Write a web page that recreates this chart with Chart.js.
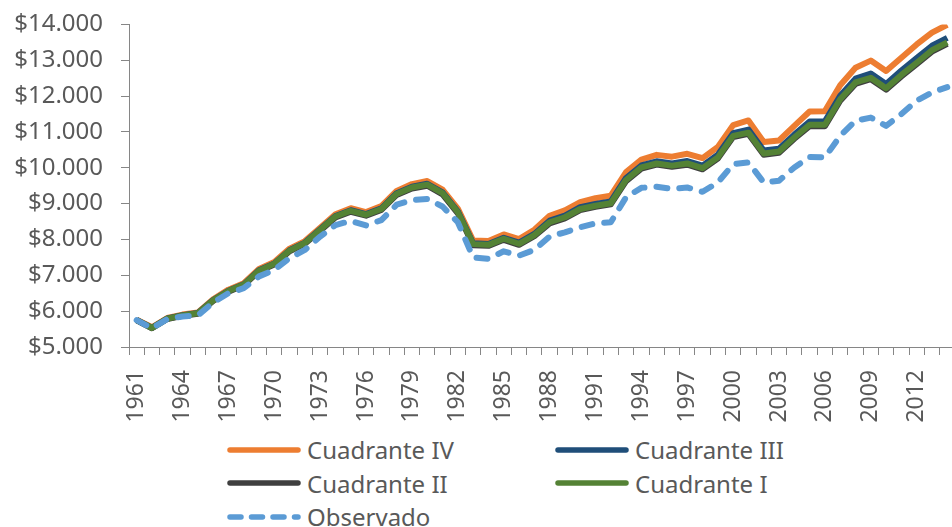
<!DOCTYPE html>
<html>
<head>
<meta charset="utf-8">
<script src="https://cdn.jsdelivr.net/npm/chart.js@4.4.1/dist/chart.umd.min.js"></script>
<style>
  html, body { margin: 0; padding: 0; background: #fff; overflow: hidden; }
  #wrap { position: relative; width: 990px; height: 527px; overflow: hidden; }
  #box { position: absolute; left: 0; top: -8px; width: 990px; height: 438px; }
  #legend {
    position: absolute; left: 227px; top: 433px;
    display: grid; grid-template-columns: 328px 328px; grid-auto-rows: 33.5px;
    font-family: "Noto Sans", sans-serif; font-size: 24px; color: #595959;
  }
  .item { display: flex; align-items: center; white-space: nowrap; }
  .item svg { margin-right: 6px; }
</style>
</head>
<body>
<div id="wrap">
  <div id="box"><canvas id="chart"></canvas></div>
  <div id="legend"></div>
</div>
<script>
const years = ['1961', '1962', '1963', '1964', '1965', '1966', '1967', '1968', '1969', '1970',
    '1971', '1972', '1973', '1974', '1975', '1976', '1977', '1978', '1979', '1980',
    '1981', '1982', '1983', '1984', '1985', '1986', '1987', '1988', '1989', '1990',
    '1991', '1992', '1993', '1994', '1995', '1996', '1997', '1998', '1999', '2000',
    '2001', '2002', '2003', '2004', '2005', '2006', '2007', '2008', '2009', '2010',
    '2011', '2012', '2013', '2014'];

const cuadranteIV = [5760, 5550, 5810, 5905, 5965, 6330, 6600, 6780, 7175, 7370,
    7745, 7955, 8330, 8705, 8870, 8765, 8930, 9355, 9545, 9630,
    9390, 8860, 7970, 7960, 8140, 8010, 8270, 8660, 8810, 9040,
    9150, 9220, 9880, 10230, 10360, 10310, 10390, 10270, 10580, 11190,
    11320, 10720, 10760, 11170, 11570, 11580, 12300, 12790, 12990, 12700,
    13070, 13440, 13770, 13990];

const cuadranteIII = [5752, 5535, 5795, 5886, 5946, 6307, 6568, 6748, 7140, 7331,
    7702, 7912, 8284, 8655, 8816, 8707, 8868, 9290, 9472, 9553,
    9313, 8783, 7893, 7875, 8048, 7910, 8155, 8525, 8668, 8900,
    8992, 9063, 9715, 10065, 10180, 10122, 10188, 10060, 10362, 10965,
    11065, 10480, 10530, 10925, 11290, 11295, 12010, 12485, 12630, 12340,
    12710, 13060, 13405, 13625];

const cuadranteII = [5745, 5522, 5780, 5870, 5928, 6286, 6545, 6724, 7112, 7302,
    7670, 7878, 8246, 8614, 8774, 8664, 8823, 9242, 9421, 9500,
    9260, 8731, 7842, 7822, 7990, 7851, 8090, 8450, 8590, 8820,
    8910, 8978, 9628, 9978, 10088, 10027, 10087, 9957, 10256, 10855,
    10945, 10365, 10420, 10808, 11162, 11162, 11872, 12340, 12470, 12180,
    12550, 12890, 13240, 13460];

const cuadranteI = [5750, 5530, 5790, 5880, 5940, 6300, 6560, 6740, 7130, 7320,
    7690, 7900, 8270, 8640, 8800, 8690, 8850, 9270, 9450, 9530,
    9290, 8760, 7870, 7850, 8020, 7880, 8120, 8480, 8620, 8850,
    8940, 9010, 9660, 10010, 10120, 10060, 10120, 9990, 10290, 10890,
    10980, 10400, 10455, 10845, 11200, 11200, 11910, 12380, 12510, 12220,
    12590, 12930, 13280, 13500];

const observado = [5750, 5520, 5780, 5850, 5880, 6240, 6500, 6640, 6970, 7150,
    7480, 7710, 8080, 8400, 8520, 8390, 8540, 8970, 9100, 9130,
    8920, 8480, 7500, 7460, 7670, 7550, 7710, 8080, 8200, 8340,
    8450, 8480, 9180, 9440, 9470, 9410, 9450, 9330, 9590, 10100,
    10150, 9590, 9640, 10010, 10300, 10290, 10890, 11310, 11400, 11170,
    11500, 11870, 12100, 12250];

const yTicks = [5000, 6000, 7000, 8000, 9000, 10000, 11000, 12000, 13000, 14000];

const axisColor = '#868686';
const textColor = '#595959';
const dashPattern = [11, 12];

const series = [
    { label: 'Cuadrante IV', data: cuadranteIV, color: '#ED7D31', order: 5 },
    { label: 'Cuadrante III', data: cuadranteIII, color: '#1F4E79', order: 4 },
    { label: 'Cuadrante II', data: cuadranteII, color: '#3F3F3F', order: 3 },
    { label: 'Cuadrante I', data: cuadranteI, color: '#548235', order: 2 },
    { label: 'Observado', data: observado, color: '#5B9BD5', order: 1, dash: true }
];

const ctx = document.getElementById('chart').getContext('2d');

const chart = new Chart(ctx, {
    type: 'line',
    data: {
        labels: years,
        datasets: series.map(s => ({
            label: s.label,
            data: s.data,
            borderColor: s.color,
            backgroundColor: s.color,
            borderWidth: 6,
            borderDash: s.dash ? dashPattern : [],
            borderCapStyle: s.dash ? 'round' : 'butt',
            borderJoinStyle: 'round',
            pointRadius: 0,
            tension: 0,
            order: s.order
        }))
    },
    options: {
        responsive: true,
        maintainAspectRatio: false,
        animation: false,
        layout: { padding: { left: 0, top: 15, right: 16, bottom: 0 } },
        plugins: {
            legend: { display: false },
            tooltip: { enabled: false }
        },
        scales: {
            x: {
                offset: true,
                afterFit: axis => { axis.height = 83; },
                grid: { offset: true, drawOnChartArea: false, tickLength: 8, color: axisColor },
                border: { color: axisColor },
                ticks: {
                    autoSkip: false,
                    minRotation: 90,
                    maxRotation: 90,
                    padding: 15,
                    color: textColor,
                    font: { family: 'Noto Sans', size: 23 },
                    callback: (v, i) => (i % 3 === 0 ? years[i] : '')
                }
            },
            y: {
                min: yTicks[0],
                max: yTicks[yTicks.length - 1],
                afterBuildTicks: axis => { axis.ticks = yTicks.map(v => ({ value: v })); },
                afterFit: axis => { axis.width = 129; },
                grid: { drawOnChartArea: false, tickLength: 8, color: axisColor },
                border: { color: axisColor },
                ticks: {
                    padding: 18,
                    color: textColor,
                    font: { family: 'Noto Sans', size: 24 },
                    callback: v => '$' + (v / 1000) + '.000'
                }
            }
        }
    }
});

// legend laid out in two columns like the original
const legendBox = document.getElementById('legend');
series.forEach(s => {
    const item = document.createElement('div');
    item.className = 'item';
    const dash = s.dash ? ' stroke-dasharray="11 10.5" stroke-linecap="round"' : ' stroke-linecap="round"';
    item.innerHTML = '<svg width="74" height="10"><line x1="3" y1="5" x2="71" y2="5" stroke="' + s.color +
        '" stroke-width="5.5"' + dash + '/></svg><span>' + s.label + '</span>';
    legendBox.appendChild(item);
});
</script>
</body>
</html>
